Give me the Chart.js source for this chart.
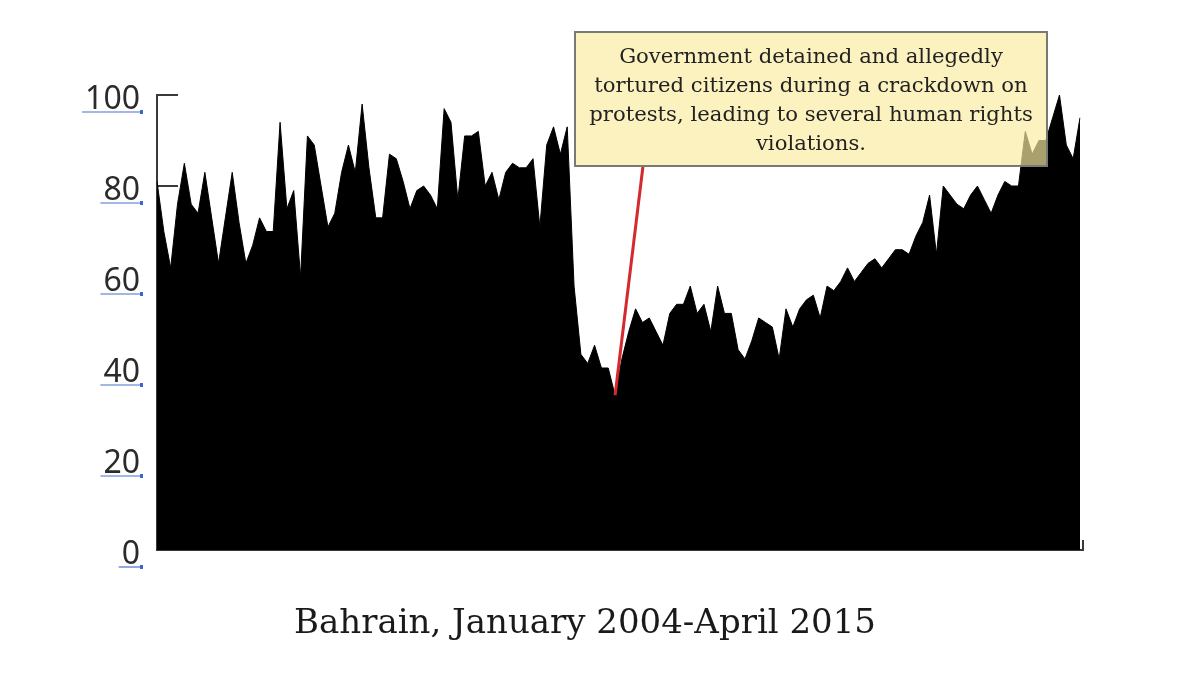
<!DOCTYPE html>
<html>
<head>
<meta charset="utf-8">
<script src="https://cdn.jsdelivr.net/npm/chart.js@4"></script>
<style>
  html, body { margin: 0; padding: 0; background: #fff; }
  #wrap { width: 1200px; height: 675px; }
</style>
</head>
<body>
<div id="wrap"><canvas id="bahrainChart"></canvas></div>
<script>
// months Jan 2004 .. Apr 2015
var monthNames = ['Jan', 'Feb', 'Mar', 'Apr', 'May', 'Jun', 'Jul', 'Aug', 'Sep', 'Oct', 'Nov', 'Dec'];
var months = [];
for (var yr = 2004; yr <= 2015; yr++) {
  for (var m = 0; m < 12; m++) {
    if (yr === 2015 && m > 3) break;
    months.push(monthNames[m] + ' ' + yr);
  }
}

var interest = [
  81, 70, 62, 76, 85, 76, 74, 83, 73, 63,
  73, 83, 72, 63, 67, 73, 70, 70, 94, 75,
  79, 60, 91, 89, 80, 71, 74, 83, 89, 83,
  98, 84, 73, 73, 87, 86, 81, 75, 79, 80,
  78, 75, 97, 94, 77, 91, 91, 92, 80, 83,
  77, 83, 85, 84, 84, 86, 71, 89, 93, 87,
  93, 58, 43, 41, 45, 40, 40, 34, 42, 48,
  53, 50, 51, 48, 45, 52, 54, 54, 58, 52,
  54, 48, 58, 52, 52, 44, 42, 46, 51, 50,
  49, 42, 53, 49, 53, 55, 56, 51, 58, 57,
  59, 62, 59, 61, 63, 64, 62, 64, 66, 66,
  65, 69, 72, 78, 65, 80, 78, 76, 75, 78,
  80, 77, 74, 78, 81, 80, 80, 92, 87, 90,
  90, 95, 100, 89, 86, 95
];

var yTicks = [0, 20, 40, 60, 80, 100];
var noteLines = [
  'Government detained and allegedly',
  'tortured citizens during a crackdown on',
  'protests, leading to several human rights',
  'violations.'
];
var noteIndex = 67; // month the callout points at
var chartTitle = 'Bahrain, January 2004-April 2015';

var axisColor = '#3a3a3a';
var tickFont = '32px "Noto Sans"';

var decor = {
  id: 'decor',
  beforeDatasetsDraw: function (chart) {
    var ctx = chart.ctx, y = chart.scales.y, area = chart.chartArea;
    ctx.save();
    ctx.strokeStyle = axisColor;
    ctx.lineWidth = 2;
    y.ticks.forEach(function (t) {
      var py = Math.round(y.getPixelForValue(t.value));
      ctx.beginPath();
      ctx.moveTo(area.left, py);
      ctx.lineTo(area.left + 21, py);
      ctx.stroke();
    });
    ctx.restore();
  },
  afterDatasetsDraw: function (chart) {
    var ctx = chart.ctx, x = chart.scales.x, y = chart.scales.y;
    var px = x.getPixelForValue(noteIndex);
    var py = y.getPixelForValue(interest[noteIndex]);
    var box = { l: 575, t: 32, r: 1047, b: 166 };
    ctx.save();
    // red pointer
    ctx.strokeStyle = '#d42a2e';
    ctx.lineWidth = 3;
    ctx.beginPath();
    ctx.moveTo(px, py);
    ctx.lineTo(643, box.b);
    ctx.stroke();
    // callout box
    ctx.fillStyle = 'rgba(250, 236, 160, 0.68)';
    ctx.fillRect(box.l, box.t, box.r - box.l, box.b - box.t);
    ctx.strokeStyle = '#7a7a74';
    ctx.lineWidth = 2;
    ctx.strokeRect(box.l, box.t, box.r - box.l, box.b - box.t);
    ctx.fillStyle = '#222';
    ctx.font = '21.2px "DejaVu Serif"';
    ctx.textAlign = 'center';
    ctx.textBaseline = 'middle';
    noteLines.forEach(function (s, i) {
      ctx.fillText(s, (box.l + box.r) / 2, 57 + i * 29);
    });
    ctx.restore();
  },
  afterDraw: function (chart) {
    var ctx = chart.ctx, y = chart.scales.y, area = chart.chartArea;
    ctx.save();
    // blue underline under y tick labels
    ctx.font = tickFont;
    y.ticks.forEach(function (t) {
      var py = y.getPixelForValue(t.value) + 5;
      var w = ctx.measureText(String(t.value)).width;
      var right = 140;
      ctx.strokeStyle = '#4a6fc8';
      ctx.lineWidth = 1.2;
      ctx.beginPath();
      ctx.moveTo(right - w - 3, py + 12);
      ctx.lineTo(right, py + 12);
      ctx.stroke();
      ctx.fillStyle = '#3b66d0';
      ctx.fillRect(right, py + 10, 3, 4);
    });
    // small end tick of the x axis
    ctx.strokeStyle = axisColor;
    ctx.lineWidth = 2;
    ctx.beginPath();
    ctx.moveTo(area.right, area.bottom);
    ctx.lineTo(area.right + 3, area.bottom);
    ctx.lineTo(area.right + 3, area.bottom - 10);
    ctx.stroke();
    // title below
    ctx.fillStyle = '#1a1a1a';
    ctx.font = '34px "DejaVu Serif"';
    ctx.textAlign = 'center';
    ctx.textBaseline = 'alphabetic';
    ctx.fillText(chartTitle, 585, 633);
    ctx.restore();
  }
};

new Chart(document.getElementById('bahrainChart'), {
  type: 'line',
  data: {
    labels: months,
    datasets: [{
      label: 'Bahrain',
      data: interest,
      fill: 'origin',
      backgroundColor: '#000',
      borderColor: '#000',
      borderWidth: 1,
      pointRadius: 0,
      tension: 0
    }]
  },
  options: {
    responsive: true,
    maintainAspectRatio: false,
    animation: false,
    layout: { padding: { top: 95, bottom: 125, left: 0, right: 120 } },
    plugins: {
      legend: { display: false },
      tooltip: { enabled: false },
      title: { display: false }
    },
    scales: {
      x: {
        afterFit: function (s) { s.height = 0; },
        ticks: { display: false },
        grid: { display: false },
        border: { display: true, color: axisColor, width: 2 }
      },
      y: {
        min: 0,
        max: 100,
        afterFit: function (s) { s.width = 157; },
        afterBuildTicks: function (s) { s.ticks = yTicks.map(function (v) { return { value: v }; }); },
        ticks: {
          padding: 9,
          labelOffset: 5,
          color: '#2b2b2b',
          font: { family: 'Noto Sans', size: 32 }
        },
        grid: { display: false },
        border: { display: true, color: axisColor, width: 2 }
      }
    }
  },
  plugins: [decor]
});
</script>
</body>
</html>
